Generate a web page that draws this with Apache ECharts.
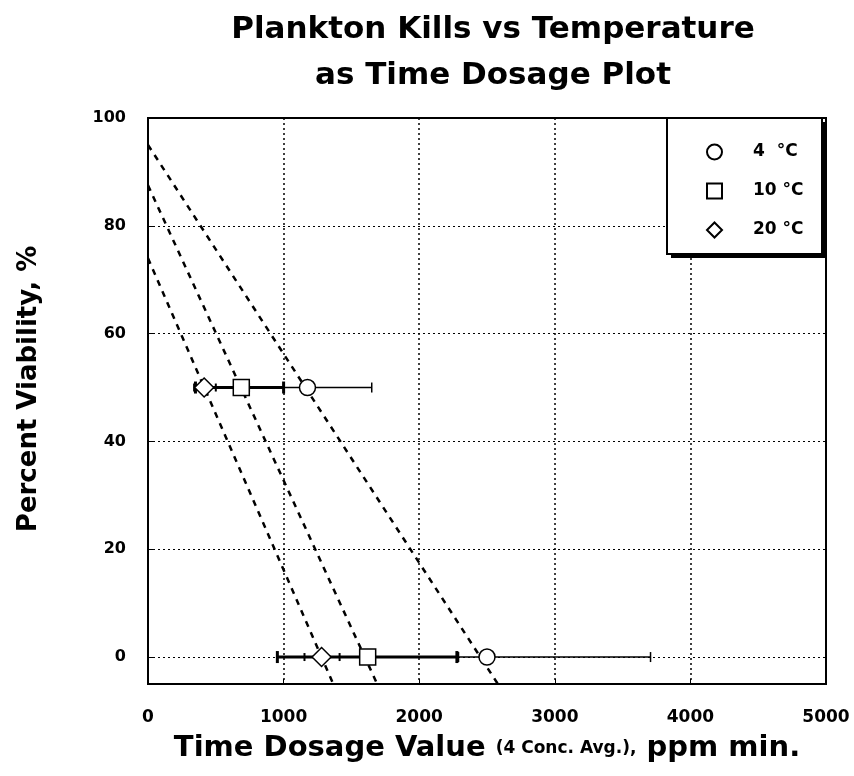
<!DOCTYPE html>
<html><head><meta charset="utf-8">
<script src="https://cdn.jsdelivr.net/npm/echarts@6/dist/echarts.min.js"></script>
<style>html,body{margin:0;padding:0;background:#fff}#c{width:854px;height:776px}</style>
</head><body><div id="c"></div>
<script>
const seriesNames = ['4  \u00B0C', '10 \u00B0C', '20 \u00B0C'];
const viability = [50, 0];
const dosage4 = [1176, 2500];
const dosage10 = [688, 1620];
const dosage20 = [414, 1280];
const errLow4 = [747, 2290];
const errHigh4 = [1650, 3706];
const errLow10 = [350, 954];
const errHigh10 = [1000, 2278];
const errLow20 = [340, 1154];
const errHigh20 = [500, 1413];
const fitLine4 = [[0, 95], [2580, -5]];
const fitLine10 = [[0, 87.5], [1690, -5]];
const fitLine20 = [[0, 74], [1366, -5]];
const yTicks = [0, 20, 40, 60, 80, 100];
const yGrid = [0, 20, 40, 60, 80];

const chart = echarts.init(document.getElementById('c'));

function errSeries(low, high, width, capH) {
  return {
    type: 'custom', silent: true, z: 2,
    data: viability.map((v, i) => [low[i], high[i], v]),
    encode: { x: [0, 1], y: 2 },
    renderItem(params, api) {
      const y = api.value(2);
      const p1 = api.coord([api.value(0), y]);
      const p2 = api.coord([api.value(1), y]);
      const style = { stroke: '#000', lineWidth: width };
      return { type: 'group', children: [
        { type: 'line', shape: { x1: p1[0], y1: p1[1], x2: p2[0], y2: p2[1] }, style },
        { type: 'line', shape: { x1: p1[0], y1: p1[1] - capH, x2: p1[0], y2: p1[1] + capH }, style },
        { type: 'line', shape: { x1: p2[0], y1: p2[1] - capH, x2: p2[0], y2: p2[1] + capH }, style }
      ]};
    }
  };
}
function fitSeries(d) {
  return { type: 'line', data: d, symbol: 'none', silent: true, z: 1,
    lineStyle: { color: '#000', width: 2.5, type: [6, 6] } };
}
function scatter(name, xs, symbol, size) {
  return { name, type: 'scatter', symbol, symbolSize: size, z: 5,
    data: xs.map((x, i) => [x, viability[i]]),
    itemStyle: { color: '#fff', borderColor: '#000', borderWidth: 1.5, opacity: 1 } };
}

const tickFont = { color: '#000', fontFamily: 'DejaVu Sans', fontWeight: 'bold', fontSize: 16 };

chart.setOption({
  animation: false,
  backgroundColor: '#fff',
  title: {
    text: 'Plankton Kills vs Temperature\nas Time Dosage Plot',
    left: 488, top: 2, textAlign: 'center',
    textStyle: { fontFamily: 'DejaVu Sans', fontWeight: 'bold', fontSize: 31, lineHeight: 46, color: '#000' }
  },
  grid: { left: 148, right: 28, top: 118, bottom: 92, show: true, borderColor: '#000', borderWidth: 2, backgroundColor: '#fff' },
  graphic: [
    { type: 'rect', z: 10, silent: true, shape: { x: 671, y: 122, width: 155, height: 136 }, style: { fill: '#000' } },
    { type: 'rect', z: 11, silent: true, shape: { x: 667, y: 118, width: 155, height: 136 }, style: { fill: '#fff', stroke: '#000', lineWidth: 2 } }
  ],
  legend: {
    data: seriesNames, orient: 'vertical', left: 706, top: 143, z: 20,
    itemWidth: 15, itemHeight: 15, itemGap: 21,
    padding: 0,
    textStyle: { fontFamily: 'DejaVu Sans', fontWeight: 'bold', fontSize: 17, lineHeight: 18, color: '#000', padding: [0, 0, 0, 26] }
  },
  xAxis: {
    type: 'value', min: 0, max: 5000, interval: 1000,
    name: '{big|Time Dosage Value }{small|(4 Conc. Avg.),}{big| ppm min.}',
    nameLocation: 'middle', nameGap: 50,
    nameTextStyle: { rich: {
      big: { fontFamily: 'DejaVu Sans', fontSize: 29, fontWeight: 'bold', color: '#000' },
      small: { fontFamily: 'DejaVu Sans', fontSize: 17, fontWeight: 'bold', color: '#000' } } },
    axisLine: { onZero: false, lineStyle: { color: '#000', width: 2 } },
    axisTick: { inside: true, length: 5, lineStyle: { color: '#000' } },
    axisLabel: Object.assign({ margin: 25, formatter: v => String(v) }, tickFont, { fontSize: 17 }),
    splitLine: { show: true, lineStyle: { color: '#000', width: 1.5, type: [2, 3] } }
  },
  yAxis: {
    type: 'value', min: -5, max: 100,
    name: 'Percent Viability, %', nameLocation: 'middle', nameGap: 106,
    nameTextStyle: { fontFamily: 'DejaVu Sans', fontSize: 26, fontWeight: 'bold', color: '#000', padding: [0, 0, 0, 24] },
    axisLine: { onZero: false, lineStyle: { color: '#000', width: 2 } },
    axisTick: { show: true, inside: true, length: 6, customValues: yTicks, lineStyle: { color: '#000' } },
    axisLabel: Object.assign({ margin: 22, customValues: yTicks }, tickFont),
    splitLine: { show: false }
  },
  series: [
    { type: 'line', data: [], silent: true, z: 0,
      markLine: { silent: true, symbol: 'none', label: { show: false },
        lineStyle: { color: '#000', width: 1, type: [2, 3] },
        data: yGrid.map(v => ({ yAxis: v })) } },
    fitSeries(fitLine4), fitSeries(fitLine10), fitSeries(fitLine20),
    errSeries(errLow4, errHigh4, 1.5, 5),
    errSeries(errLow10, errHigh10, 3, 6),
    errSeries(errLow20, errHigh20, 2, 4),
    scatter(seriesNames[0], dosage4, 'circle', 16),
    scatter(seriesNames[1], dosage10, 'rect', 16),
    scatter(seriesNames[2], dosage20, 'diamond', 19)
  ]
});
</script></body></html>
